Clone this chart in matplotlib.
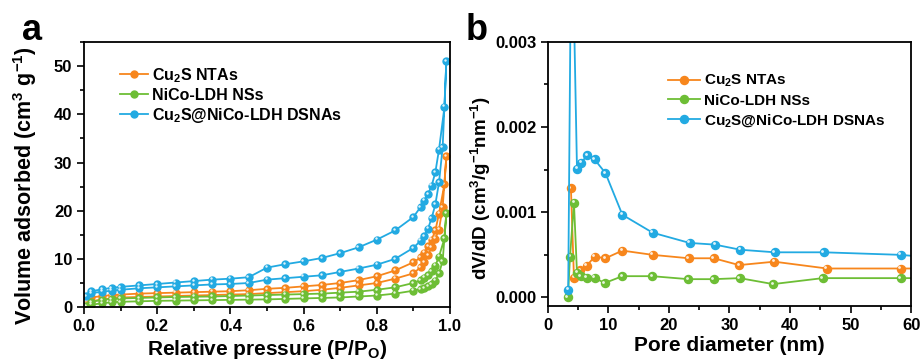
import matplotlib
matplotlib.use('Agg')
import matplotlib.pyplot as plt
from matplotlib.ticker import MultipleLocator
from matplotlib.transforms import offset_copy

plt.rcParams['font.family'] = ['Liberation Sans', 'DejaVu Sans']
plt.rcParams['font.weight'] = 'bold'
plt.rcParams['axes.labelweight'] = 'bold'
plt.rcParams['mathtext.default'] = 'regular'

labels = ['Cu$_2$S NTAs', 'NiCo-LDH NSs', 'Cu$_2$S@NiCo-LDH DSNAs']
colors = ['#F7861C', '#6DBE35', '#22AAE2']

# N2 isotherms: adsorption branch then desorption branch
p_ads = [0.005, 0.02, 0.05, 0.075, 0.1, 0.15, 0.2, 0.25, 0.3, 0.35, 0.4, 0.45,
         0.5, 0.55, 0.6, 0.65, 0.7, 0.75, 0.8, 0.85, 0.9, 0.92, 0.93, 0.94,
         0.95, 0.96, 0.97, 0.98, 0.99]
p_des = [0.985, 0.97, 0.96, 0.95, 0.94, 0.93, 0.92, 0.9, 0.85, 0.8, 0.75, 0.7,
         0.65, 0.6, 0.55, 0.5, 0.45, 0.4, 0.35, 0.3, 0.25, 0.2, 0.15, 0.1,
         0.075, 0.05, 0.02]

cu2s_ads = [0.5, 1.2, 1.6, 1.8, 2.0, 2.1, 2.2, 2.3, 2.4, 2.5, 2.6, 2.7, 2.9,
            3.1, 3.3, 3.6, 4.0, 4.5, 5.0, 5.9, 7.0, 8.3, 9.4, 10.8, 12.4, 14.2,
            16.1, 20.7, 31.3]
cu2s_des = [25.6, 19.4, 15.9, 14.0, 12.6, 11.3, 10.3, 9.3, 7.6, 6.4, 5.6, 5.0,
            4.6, 4.3, 4.0, 3.8, 3.5, 3.3, 3.2, 3.1, 3.0, 2.9, 2.8, 2.6, 2.5,
            2.3, 2.0]

ldh_ads = [0.2, 0.5, 0.8, 1.0, 1.1, 1.2, 1.3, 1.35, 1.4, 1.45, 1.5, 1.55, 1.6,
           1.7, 1.8, 1.9, 2.0, 2.2, 2.4, 2.8, 3.4, 3.8, 4.0, 4.3, 4.8, 5.5,
           7.0, 9.6, 19.5]
ldh_des = [14.3, 10.5, 8.6, 7.5, 6.7, 6.1, 5.6, 5.0, 4.1, 3.6, 3.2, 3.0, 2.8,
           2.7, 2.6, 2.5, 2.4, 2.3, 2.2, 2.15, 2.1, 2.0, 1.9, 1.8, 1.7, 1.5,
           1.1]

dsna_ads = [2.3, 2.9, 3.2, 3.4, 3.6, 3.9, 4.1, 4.3, 4.5, 4.7, 4.8, 5.0, 5.7,
            6.0, 6.3, 6.6, 7.3, 8.0, 8.8, 10.0, 12.3, 13.8, 14.8, 16.3, 18.5,
            21.3, 25.9, 33.2, 51.0]
dsna_des = [41.6, 32.7, 28.0, 25.2, 23.5, 22.1, 20.8, 18.7, 15.9, 14.0, 12.4,
            11.2, 10.2, 9.5, 8.9, 8.2, 6.2, 5.9, 5.7, 5.4, 5.1, 4.8, 4.5, 4.2,
            4.0, 3.7, 3.3]

# BJH pore size distributions
d_cu2s = [3.8, 4.3, 5.3, 6.4, 7.7, 9.5, 12.3, 17.3, 23.3, 27.4, 31.6, 37.4,
          46.1, 58.3, 61.5]
v_cu2s = [0.00128, 0.00023, 0.00032, 0.00037, 0.00048, 0.00046, 0.00055,
          0.0005, 0.00046, 0.00046, 0.00038, 0.00042, 0.00034, 0.00034,
          0.00034]
d_ldh = [3.3, 3.65, 4.3, 4.8, 5.4, 6.4, 7.7, 9.4, 12.3, 17.2, 23.2, 27.4,
         31.7, 37.2, 45.4, 58.3, 61.5]
v_ldh = [0.0, 0.00048, 0.00111, 0.00029, 0.00025, 0.00023, 0.00023, 0.00017,
         0.00025, 0.00025, 0.000215, 0.000215, 0.000227, 0.000157, 0.000227,
         0.000227, 0.000227]
d_dsna = [3.35, 3.9, 4.8, 5.5, 6.5, 7.7, 9.5, 12.3, 17.3, 23.4, 27.6, 31.8,
          37.5, 45.6, 58.3, 61.5]
v_dsna = [0.00009, 0.0048, 0.00151, 0.00158, 0.00167, 0.00162, 0.00146,
          0.00097, 0.00076, 0.00064, 0.00062, 0.00056, 0.00053, 0.00053,
          0.0005, 0.00048]

fig = plt.figure(figsize=(9.24, 3.63), dpi=100)
ax1 = fig.add_axes([0.091, 0.154, 0.396, 0.730])
ax2 = fig.add_axes([0.593, 0.157, 0.393, 0.728])


def ball_line(ax, x, y, color, ms, label):
    # line with round markers plus a small white glint on each ball
    ax.plot(x, y, '-o', color=color, lw=1.3, ms=ms, mec=color, mfc=color,
            label=label)
    glint = offset_copy(ax.transData, fig=fig, x=-ms * 0.18, y=ms * 0.18,
                        units='points')
    ax.plot(x, y, 'o', ms=ms * 0.35, color='white', alpha=0.85, mew=0,
            transform=glint)


ball_line(ax1, p_ads + p_des, cu2s_ads + cu2s_des, colors[0], 5.0, labels[0])
ball_line(ax1, p_ads + p_des, ldh_ads + ldh_des, colors[1], 5.0, labels[1])
ball_line(ax1, p_ads + p_des, dsna_ads + dsna_des, colors[2], 5.0, labels[2])

ball_line(ax2, d_cu2s, v_cu2s, colors[0], 5.8, labels[0])
ball_line(ax2, d_ldh, v_ldh, colors[1], 5.8, labels[1])
ball_line(ax2, d_dsna, v_dsna, colors[2], 5.8, labels[2])

ax1.set_xlim(0, 1.0)
ax1.set_ylim(0, 55)
ax1.xaxis.set_major_locator(MultipleLocator(0.2))
ax1.xaxis.set_minor_locator(MultipleLocator(0.1))
ax1.yaxis.set_major_locator(MultipleLocator(10))
ax1.yaxis.set_minor_locator(MultipleLocator(5))
ax1.xaxis.set_major_formatter(plt.FuncFormatter(lambda v, p: f'{v:.1f}'))
ax1.set_xlabel('Relative pressure (P/P$_O$)', fontsize=15)
ax1.set_ylabel('Volume adsorbed (cm$^3$ g$^{-1}$)', fontsize=15.5)
ax1.xaxis.set_label_coords(0.5, -0.115)
ax1.yaxis.set_label_coords(-0.122, 0.457)

ax2.set_xlim(0, 60)
ax2.set_ylim(-0.0001, 0.003)
ax2.xaxis.set_major_locator(MultipleLocator(10))
ax2.xaxis.set_minor_locator(MultipleLocator(5))
ax2.yaxis.set_major_locator(MultipleLocator(0.001))
ax2.yaxis.set_minor_locator(MultipleLocator(0.0005))
ax2.yaxis.set_major_formatter(plt.FuncFormatter(lambda v, p: f'{v:.3f}'))
ax2.set_xlabel('Pore diameter (nm)', fontsize=15)
ax2.set_ylabel('dV/dD (cm$^3$/g$^{-1}$nm$^{-1}$)', fontsize=13.5)
ax2.xaxis.set_label_coords(0.5, -0.115)
ax2.yaxis.set_label_coords(-0.15, 0.445)

for ax in (ax1, ax2):
    for s in ax.spines.values():
        s.set_linewidth(1.3)
    ax.tick_params(which='both', direction='out', width=1.2, top=False,
                   right=False, labelsize=12)
    ax.tick_params(which='major', length=5)
    ax.tick_params(which='minor', length=3)

ax1.legend(loc='upper left', bbox_to_anchor=(0.098, 0.91), frameon=False,
           fontsize=11.5, handlelength=1.75, handletextpad=0.25,
           labelspacing=0.19, borderpad=0, borderaxespad=0)
ax2.legend(loc='upper left', bbox_to_anchor=(0.33, 0.882), frameon=False,
           fontsize=11, handlelength=2.1, handletextpad=0.25,
           labelspacing=0.28, borderpad=0, borderaxespad=0)

fig.text(22 / 924, 1 - 40 / 363, 'a', fontsize=26, fontweight='bold',
         va='baseline')
fig.text(466 / 924, 1 - 40 / 363, 'b', fontsize=26, fontweight='bold',
         va='baseline')

fig.savefig('out.png', dpi=100)
